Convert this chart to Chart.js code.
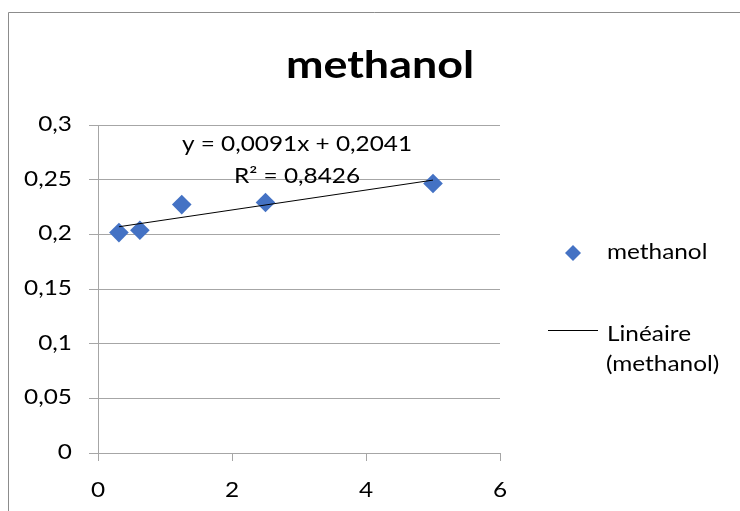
<!DOCTYPE html>
<html>
<head>
<meta charset="utf-8">
<script src="https://cdn.jsdelivr.net/npm/chart.js@4"></script>
<style>
  html, body { margin: 0; padding: 0; background: #fff; }
  #wrap { width: 740px; height: 511px; position: relative; }
</style>
</head>
<body>
<div id="wrap"><canvas id="c" width="740" height="511"></canvas></div>
<script>
// Concentration (x) and absorbance (y) readings for methanol
const concentrations = [0.3125, 0.625, 1.25, 2.5, 5];
const absorbances = [0.2016, 0.2037, 0.2272, 0.2291, 0.2465];

// Linear fit as stated on the chart
const fitSlope = 0.0091;
const fitIntercept = 0.2041;
const fitR2 = 0.8426;

// Axis settings
const xTicks = [0, 2, 4, 6];
const yTicks = [0, 0.05, 0.1, 0.15, 0.2, 0.25, 0.3];

const titleText = 'methanol';
const seriesLabel = 'methanol';
const trendLabel = ['Linéaire', '(methanol)'];

const FONT = 'Lato, "Open Sans", sans-serif';
const BLUE = '#4472C4';
const GRID = '#a6a6a6';
const TEXT_SX = 1.16;   // slightly wide lettering
const TITLE_SX = 1.18;

const fr = v => String(v).replace('.', ',');

const xMin = Math.min(...concentrations);
const xMax = Math.max(...concentrations);
const trendPoints = [
  { x: xMin, y: fitSlope * xMin + fitIntercept },
  { x: xMax, y: fitSlope * xMax + fitIntercept }
];

function wideText(ctx, text, x, y, align, sx) {
  ctx.save();
  ctx.translate(x, y);
  ctx.scale(sx, 1);
  ctx.textAlign = align;
  ctx.textBaseline = 'alphabetic';
  ctx.fillText(text, 0, 0);
  ctx.restore();
}

const decorations = {
  id: 'decorations',
  beforeDraw(chart) {
    const ctx = chart.ctx;
    ctx.save();
    ctx.fillStyle = '#fff';
    ctx.fillRect(0, 0, chart.width, chart.height);
    ctx.strokeStyle = '#8c8c8c';
    ctx.lineWidth = 1;
    ctx.beginPath();
    ctx.moveTo(8.5, chart.height + 5);
    ctx.lineTo(8.5, 12.5);
    ctx.lineTo(chart.width + 5, 12.5);
    ctx.stroke();
    ctx.restore();
  },
  afterDraw(chart) {
    const ctx = chart.ctx;
    const xs = chart.scales.x, ys = chart.scales.y;
    ctx.save();
    ctx.fillStyle = '#000';

    // tick labels
    ctx.font = '21px ' + FONT;
    xTicks.forEach(v => wideText(ctx, fr(v), xs.getPixelForValue(v), 496.5, 'center', TEXT_SX));
    yTicks.forEach(v => wideText(ctx, fr(v), 72, ys.getPixelForValue(v) + 6, 'right', TEXT_SX));

    // title
    ctx.font = 'bold 38px ' + FONT;
    wideText(ctx, titleText, 380, 78, 'center', TITLE_SX);

    // trendline equation
    ctx.font = '21px ' + FONT;
    wideText(ctx, 'y = ' + fr(fitSlope) + 'x + ' + fr(fitIntercept), 297, 151, 'center', TEXT_SX);
    wideText(ctx, 'R² = ' + fr(fitR2), 297, 183, 'center', TEXT_SX);

    // legend
    ctx.fillStyle = BLUE;
    const lx = 573, ly = 253, r = 8;
    ctx.beginPath();
    ctx.moveTo(lx - r, ly);
    ctx.lineTo(lx, ly - r);
    ctx.lineTo(lx + r, ly);
    ctx.lineTo(lx, ly + r);
    ctx.closePath();
    ctx.fill();
    ctx.fillStyle = '#000';
    wideText(ctx, seriesLabel, 607, 258.5, 'left', TEXT_SX);

    ctx.strokeStyle = '#000';
    ctx.lineWidth = 1;
    ctx.beginPath();
    ctx.moveTo(548, 330.5);
    ctx.lineTo(598, 330.5);
    ctx.stroke();
    wideText(ctx, trendLabel[0], 607, 340.5, 'left', TEXT_SX);
    wideText(ctx, trendLabel[1], 606, 371, 'left', TEXT_SX);
    ctx.restore();
  }
};

new Chart(document.getElementById('c'), {
  type: 'scatter',
  data: {
    datasets: [
      {
        label: 'Linéaire (methanol)',
        type: 'line',
        data: trendPoints,
        borderColor: '#000',
        borderWidth: 1,
        pointRadius: 0,
        fill: false,
        order: 0
      },
      {
        label: seriesLabel,
        data: concentrations.map((x, i) => ({ x, y: absorbances[i] })),
        pointStyle: 'rectRot',
        pointRadius: 9.8,
        pointHoverRadius: 9.8,
        backgroundColor: BLUE,
        borderColor: BLUE,
        borderWidth: 0,
        order: 1
      }
    ]
  },
  options: {
    responsive: false,
    animation: false,
    devicePixelRatio: 1,
    layout: { padding: { left: 0, top: 125, right: 240, bottom: 0 } },
    plugins: {
      legend: { display: false },
      title: { display: false },
      tooltip: { enabled: false }
    },
    scales: {
      x: {
        type: 'linear',
        min: xTicks[0],
        max: xTicks[xTicks.length - 1],
        afterBuildTicks(scale) { scale.ticks = xTicks.map(v => ({ value: v })); },
        afterFit(scale) { scale.height = 58; },
        border: { color: GRID, width: 1 },
        grid: { drawOnChartArea: false, drawTicks: true, tickLength: 8, color: GRID },
        ticks: { display: false }
      },
      y: {
        type: 'linear',
        min: yTicks[0],
        max: yTicks[yTicks.length - 1],
        afterBuildTicks(scale) { scale.ticks = yTicks.map(v => ({ value: v })); },
        afterFit(scale) { scale.width = 98; },
        border: { color: GRID, width: 1 },
        grid: { drawOnChartArea: true, drawTicks: true, tickLength: 9, color: GRID },
        ticks: { display: false }
      }
    }
  },
  plugins: [decorations]
});
</script>
</body>
</html>
